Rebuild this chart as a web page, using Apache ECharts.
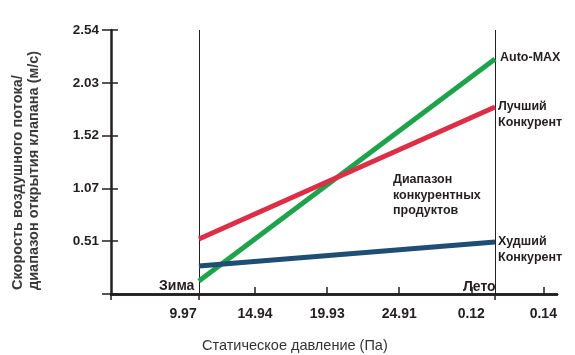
<!DOCTYPE html>
<html><head><meta charset="utf-8">
<script src="https://cdn.jsdelivr.net/npm/echarts@6/dist/echarts.min.js"></script>
<style>html,body{margin:0;padding:0;background:#fff}#c{width:575px;height:355px}</style>
</head><body><div id="c"></div>
<script>
// Tick labels
const xTickLabels = ['9.97', '14.94', '19.93', '24.91', '0.12', '0.14'];
const yTickLabels = ['', '0.51', '1.07', '1.52', '2.03', '2.54'];
// x positions in tick units (1 = first label), season reference lines
const seasonNames = ['Зима', 'Лето'];
const seasonX = [1.22, 5.33];
// series values (m/s) at Зима and Лето
const seriesNames = ['Auto-MAX', 'Лучший\nКонкурент', 'Худший\nКонкурент'];
const autoMax = [0.125, 2.26];
const bestComp = [0.53, 1.80];
const worstComp = [0.27, 0.50];
const colors = ['#1fa34a', '#dc2f47', '#1f4d74'];
const yStep = 0.508;

const dark = '#231f20';
const font = 'Liberation Sans';

function pts(vals) { return vals.map((v, i) => [seasonX[i], v]); }

const chart = echarts.init(document.getElementById('c'));
const lineSeries = [autoMax, bestComp, worstComp].map((vals, i) => ({
  type: 'line', name: seriesNames[i], data: pts(vals), symbol: 'none',
  lineStyle: { color: colors[i], width: 5 }, z: 5,
  endLabel: { show: true, formatter: seriesNames[i], color: dark, fontFamily: font,
    fontWeight: 'bold', fontSize: 12.5, lineHeight: 16, distance: 4,
    align: 'left', verticalAlign: i === 0 ? 'middle' : 'top', offset: i === 0 ? [1, -2] : [-1, -8] }
}));
lineSeries.push({
  type: 'line', data: [], symbol: 'none',
  markLine: { silent: true, symbol: 'none', label: { show: false },
    lineStyle: { color: dark, width: 1, type: 'solid' },
    data: seasonX.map(x => ({ xAxis: x })) }
});

chart.setOption({
  animation: false,
  grid: { left: 111, top: 30, right: 18, bottom: 61, outerBoundsMode: 'none', containLabel: false },
  title: [
    { text: 'Статическое давление (Па)', left: 197, top: 333,
      textStyle: { fontFamily: font, fontWeight: 'normal', fontSize: 14.5, color: '#333' } },
    { text: 'Диапазон\nконкурентных\nпродуктов', left: 388, top: 167,
      textStyle: { fontFamily: font, fontWeight: 'bold', fontSize: 12.5, lineHeight: 15.5, color: dark } },
    { text: seasonNames[0], left: 154, top: 274,
      textStyle: { fontFamily: font, fontWeight: 'bold', fontSize: 14, color: dark } },
    { text: seasonNames[1], left: 458, top: 275,
      textStyle: { fontFamily: font, fontWeight: 'bold', fontSize: 14, color: dark } }
  ],
  graphic: [{
    type: 'text', x: 26, y: 290, rotation: Math.PI / 2,
    style: { text: 'Скорость воздушного потока/\nдиапазон открытия клапана (м/с)',
      fontFamily: font, fontWeight: 'bold', fontSize: 14.5, lineHeight: 15.5, fill: '#3a3a3a',
      textAlign: 'left', textVerticalAlign: 'middle' }
  }],
  xAxis: [{
    type: 'value', min: 0, max: 6.19, position: 'bottom',
    axisLine: { show: true, onZero: false, lineStyle: { color: dark, width: 2.5 } },
    axisTick: { show: true, inside: true, length: 7, lineStyle: { color: dark, width: 1.5 }, customValues: [2, 3, 4, 5, 6] },
    axisLabel: { show: true, customValues: [1, 2, 3, 4, 5, 6], formatter: v => xTickLabels[Math.round(v) - 1],
      color: dark, fontFamily: font, fontWeight: 'bold', fontSize: 14, margin: 13 },
    splitLine: { show: false }
  }, {
    type: 'value', min: 0, max: 6.19, position: 'bottom',
    axisLine: { show: false },
    axisTick: { show: true, inside: false, length: 6, lineStyle: { color: dark, width: 1.5 }, customValues: [0, seasonX[0], seasonX[1]] },
    axisLabel: { show: false }, splitLine: { show: false }
  }, {
    type: 'value', min: 0, max: 6.19, position: 'top',
    axisLine: { show: true, lineStyle: { color: dark, width: 2.5 } },
    axisTick: { show: false }, axisLabel: { show: false }, splitLine: { show: false }
  }],
  yAxis: [{
    type: 'value', min: 0, max: yStep * 5, interval: yStep,
    axisLine: { show: true, lineStyle: { color: dark, width: 2.5 } },
    axisTick: { show: true, inside: false, length: 9, lineStyle: { color: dark, width: 1.5 } },
    axisLabel: { formatter: (v) => yTickLabels[Math.round(v / yStep)], color: dark,
      fontFamily: font, fontWeight: 'bold', fontSize: 13.5, margin: 12 },
    splitLine: { show: false }
  }, {
    type: 'value', min: 0, max: yStep * 5, interval: yStep, position: 'left',
    axisLine: { show: false },
    axisTick: { show: true, inside: true, length: 7, lineStyle: { color: dark, width: 1.5 } },
    axisLabel: { show: false }, splitLine: { show: false }
  }],
  series: lineSeries
});
</script></body></html>
